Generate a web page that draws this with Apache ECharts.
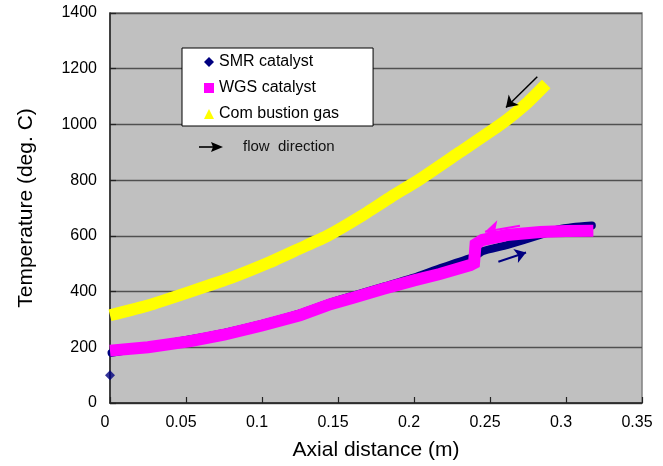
<!DOCTYPE html>
<html>
<head>
<meta charset="utf-8">
<style>
  html, body { margin: 0; padding: 0; background: #ffffff; }
  #chart { width: 663px; height: 466px; }
</style>
<script src="https://cdn.jsdelivr.net/npm/echarts@6/dist/echarts.min.js"></script>
</head>
<body>
<div id="chart"></div>
<script>
// Axial temperature profiles along the reformer
const xTicks = [0, 0.05, 0.1, 0.15, 0.2, 0.25, 0.3, 0.35];
const yTicks = [0, 200, 400, 600, 800, 1000, 1200, 1400];

// Combustion gas
const distGas = [0, 0.025, 0.053, 0.08, 0.105, 0.125, 0.143, 0.165, 0.185, 0.203, 0.23, 0.257, 0.275, 0.287];
const tempGas = [315, 350, 400, 450, 505, 555, 600, 670, 740, 800, 900, 1000, 1080, 1145];

// SMR catalyst bed (inlet feed point drawn separately)
const smrInlet = [0, 100];
const distSmr = [0.001, 0.025, 0.053, 0.075, 0.1, 0.125, 0.145, 0.16, 0.18, 0.2, 0.217, 0.24, 0.245, 0.261, 0.283, 0.294, 0.305, 0.317];
const tempSmr = [180, 202, 229, 252, 284, 322, 361, 386, 418, 450, 484, 526, 545, 567, 603, 622, 632, 637];

// WGS catalyst bed
const distWgs = [0, 0.025, 0.053, 0.075, 0.1, 0.125, 0.145, 0.16, 0.18, 0.2, 0.217, 0.237, 0.2395, 0.2405, 0.245, 0.261, 0.283, 0.3, 0.318];
const tempWgs = [188, 200, 222, 245, 278, 315, 355, 378, 410, 440, 463, 495, 502, 570, 585, 603, 614, 617, 618];

// Flow direction arrows: [start, end] in axis units
const arrowGas = [[0.2811, 1171], [0.2605, 1061]];
const arrowSmr = [[0.2555, 507], [0.2737, 540]];
const arrowWgs = [[0.2697, 636], [0.2467, 615]];

const pairs = (xs, ys) => xs.map((x, i) => [x, ys[i]]);
const arrowLine = (a, color, width, size) => ({
  silent: true,
  symbol: ['none', 'arrow'],
  symbolSize: size,
  label: { show: false },
  lineStyle: { type: 'solid', color: color, width: width },
  itemStyle: { color: color },
  emphasis: { disabled: true },
  data: [[{ coord: a[0] }, { coord: a[1] }]]
});

const FONT = '"Liberation Sans", Arial, Helvetica, sans-serif';
const chart = echarts.init(document.getElementById('chart'), null, { renderer: 'canvas' });

chart.setOption({
  animation: false,
  backgroundColor: '#ffffff',
  textStyle: { fontFamily: FONT },
  grid: {
    left: 110, right: 21, top: 13, bottom: 63,
    show: true,
    backgroundColor: '#c0c0c0',
    borderColor: '#808080',
    borderWidth: 1.5
  },
  legend: {
    orient: 'vertical',
    left: 182,
    top: 48,
    padding: [6, 34, 4, 22],
    itemGap: 10,
    itemWidth: 10,
    itemHeight: 10,
    backgroundColor: '#ffffff',
    borderColor: '#000000',
    borderWidth: 1,
    selectedMode: false,
    textStyle: { fontFamily: FONT, fontSize: 16, color: '#000000' },
    data: [
      { name: 'SMR catalyst', icon: 'diamond' },
      { name: 'WGS catalyst', icon: 'rect' },
      { name: 'Com bustion gas', icon: 'triangle' }
    ]
  },
  xAxis: {
    type: 'value',
    min: xTicks[0],
    max: xTicks[xTicks.length - 1],
    interval: 0.05,
    name: 'Axial distance (m)',
    nameLocation: 'middle',
    nameGap: 37,
    nameTextStyle: { fontFamily: FONT, fontSize: 21, color: '#000000' },
    axisLine: { show: true, onZero: false, lineStyle: { color: '#222222', width: 1.5 } },
    axisTick: { show: true, inside: true, length: 6, lineStyle: { color: '#222222', width: 1.2 } },
    axisLabel: {
      fontFamily: FONT, fontSize: 16, color: '#000000', margin: 12,
      padding: [0, 10, 0, 0],
      formatter: v => String(parseFloat(v.toFixed(2)))
    },
    splitLine: { show: false }
  },
  yAxis: {
    type: 'value',
    min: yTicks[0],
    max: yTicks[yTicks.length - 1],
    interval: 200,
    name: 'Temperature (deg. C)',
    nameLocation: 'middle',
    nameGap: 73,
    nameTextStyle: { fontFamily: FONT, fontSize: 21, color: '#000000' },
    axisLine: { show: true, onZero: false, lineStyle: { color: '#222222', width: 1.5 } },
    axisTick: { show: true, inside: true, length: 6, lineStyle: { color: '#222222', width: 1.2 } },
    axisLabel: { fontFamily: FONT, fontSize: 16, color: '#000000', margin: 13, formatter: v => String(v) },
    splitLine: { show: true, lineStyle: { color: '#505050', width: 1.3 } }
  },
  series: [
    {
      name: 'Com bustion gas',
      type: 'line',
      data: pairs(distGas, tempGas),
      smooth: 0.15,
      showSymbol: false,
      symbol: 'triangle',
      clip: false,
      itemStyle: { color: '#ffff00' },
      lineStyle: { color: '#ffff00', width: 12, cap: 'butt' },
      markLine: arrowLine(arrowGas, '#000000', 1.5, 11),
      z: 2
    },
    {
      name: 'SMR catalyst',
      type: 'line',
      data: pairs(distSmr, tempSmr),
      smooth: 0.15,
      showSymbol: false,
      symbol: 'diamond',
      clip: false,
      itemStyle: { color: '#000080' },
      lineStyle: { color: '#000080', width: 8, cap: 'round' },
      markLine: arrowLine(arrowSmr, '#000080', 2, 11),
      z: 3
    },
    {
      name: 'SMR catalyst',
      type: 'scatter',
      data: [smrInlet],
      symbol: 'diamond',
      symbolSize: 10,
      clip: false,
      itemStyle: { color: '#000080' },
      z: 3
    },
    {
      name: 'WGS catalyst',
      type: 'line',
      data: pairs(distWgs, tempWgs),
      smooth: false,
      showSymbol: false,
      symbol: 'rect',
      clip: false,
      itemStyle: { color: '#ff00ff' },
      lineStyle: { color: '#ff00ff', width: 12, cap: 'butt', join: 'miter' },
      markLine: arrowLine(arrowWgs, '#ff00ff', 2, 14),
      z: 4
    }
  ],
  graphic: [
    {
      type: 'group',
      z: 100,
      children: [
        { type: 'line', shape: { x1: 199, y1: 147, x2: 214, y2: 147 }, style: { stroke: '#000000', lineWidth: 1.6 } },
        { type: 'polygon', shape: { points: [[223, 147], [211, 142], [213, 147], [211, 152]] }, style: { fill: '#000000' } },
        { type: 'text', style: { x: 243, y: 147, text: 'flow  direction', fontFamily: FONT, fontSize: 15, fill: '#111111', verticalAlign: 'middle' } }
      ]
    }
  ]
});
</script>
</body>
</html>
